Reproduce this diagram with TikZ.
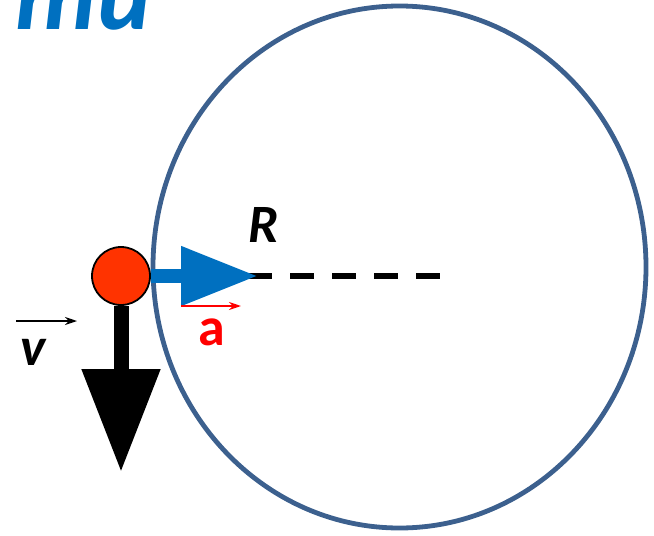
\documentclass[tikz,border=0pt]{standalone}
\usepackage{fontspec}
\setmainfont{Carlito}
\usetikzlibrary{arrows.meta}
\definecolor{ringblue}{RGB}{60,96,142}
\definecolor{arrowblue}{RGB}{0,112,192}
\definecolor{ballred}{RGB}{255,51,0}

\begin{document}
\begin{tikzpicture}[x=0.5pt, y=-0.5pt, every node/.style={font=\fontsize{27}{30}\selectfont\bfseries\itshape, inner sep=0pt}]
  \useasboundingbox (0,0) rectangle (654,536);
  % heading, cut by the frame
  \begin{scope}
    \clip (0,0) rectangle (654,536);
    \node[anchor=base east, text=arrowblue, font=\fontsize{51}{54}\selectfont\bfseries\itshape] (title) at (152,29) {ти};
  \end{scope}

  \draw[ringblue, line width=2.4pt] (399.5,267) ellipse [x radius=246.5, y radius=261];

  \node[circle, draw=black, line width=0.9pt, fill=ballred, minimum size=29pt] (ball) at (121,276) {};
  \coordinate (rtip) at (258,276);
  \coordinate (dstart) at (248,276);
  \coordinate (dend) at (440,276);
  \coordinate (vtip) at (121,472);

  \draw[black, line width=3pt, dash pattern=on 12pt off 9pt] (dstart) -- (dend);
  \draw[arrowblue, line width=7pt, -{Triangle[length=38.5pt, width=28pt]}] (ball) -- (rtip);
  \draw[black, line width=7.5pt, -{Triangle[length=51.5pt, width=37.5pt]}] (ball) -- (vtip);

  % vector signs
  \coordinate (a0) at (181,306);
  \coordinate (a1) at (241,306);
  \coordinate (v0) at (16,321);
  \coordinate (v1) at (77,321);
  \draw[red, line width=1pt, -{Stealth[length=6pt, width=4pt]}] (a0) -- (a1);
  \draw[black, line width=0.75pt, -{Stealth[length=6pt, width=4pt]}] (v0) -- (v1);

  \node[anchor=base] (rlabel) at (264,242) {R};
  \node[anchor=base, text=red, font=\fontsize{27}{30}\selectfont\bfseries\upshape] (alabel) at (212,345) {a};
  \node[anchor=base] (vlabel) at (33,365) {v};
\end{tikzpicture}
\end{document}
